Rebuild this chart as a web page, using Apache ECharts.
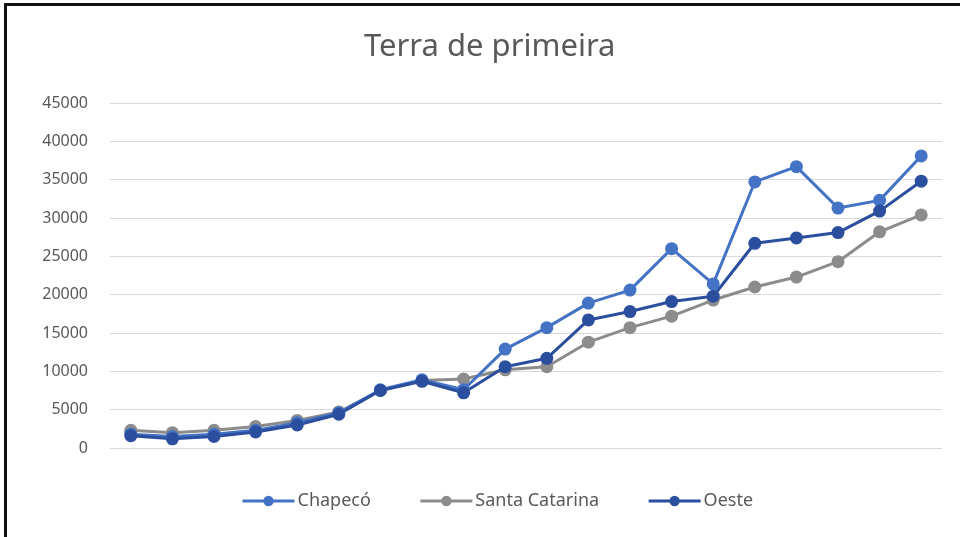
<!DOCTYPE html>
<html>
<head>
<meta charset="utf-8">
<script src="https://cdn.jsdelivr.net/npm/echarts@6/dist/echarts.min.js"></script>
<style>
  html, body { margin: 0; padding: 0; background: #fff; }
  #frame {
    position: absolute; left: 4px; top: 3px; width: 956px; height: 534px;
    border-top: 3px solid #111; border-left: 3px solid #111;
  }
  #chart { position: absolute; left: 0; top: 0; width: 960px; height: 537px; }
</style>
</head>
<body>
<div id="frame"></div>
<div id="chart"></div>
<script>
const periodos = ['1', '2', '3', '4', '5', '6', '7', '8', '9', '10',
  '11', '12', '13', '14', '15', '16', '17', '18', '19', '20']

const chapeco = [1800, 1500, 1800, 2300, 3300, 4600, 7600, 8900, 7600, 12900,
  15700, 18900, 20600, 26000, 21400, 34700, 36700, 31300, 32300, 38100]
const santaCatarina = [2300, 2000, 2300, 2800, 3600, 4700, 7500, 8800, 9000, 10200,
  10600, 13800, 15700, 17200, 19300, 21000, 22300, 24300, 28200, 30400]
const oeste = [1600, 1200, 1500, 2100, 3000, 4400, 7500, 8700, 7200, 10600,
  11700, 16700, 17800, 19100, 19800, 26700, 27400, 28100, 30900, 34800]

const yTicks = { min: 0, max: 45000, interval: 5000 }

const chart = echarts.init(document.getElementById('chart'))

const serie = (name, data, color) => ({
  name,
  type: 'line',
  data,
  symbol: 'circle',
  symbolSize: 13,
  lineStyle: { width: 3, color },
  itemStyle: { color },
  z: name === 'Santa Catarina' ? 1 : 2
})

chart.setOption({
  animation: false,
  color: ['#4472C4', '#8C8C8C', '#2B4F9E'],
  title: {
    text: 'Terra de primeira',
    left: 359,
    top: 27,
    textStyle: { fontFamily: 'Noto Sans', fontSize: 31, fontWeight: 'normal', color: '#595959' }
  },
  legend: {
    bottom: 22,
    left: 236,
    itemWidth: 52,
    itemHeight: 13,
    itemGap: 48,
    lineStyle: { width: 3 },
    textStyle: { fontFamily: 'Noto Sans', fontSize: 18, color: '#595959', padding: [0, 0, 0, -2] },
    data: ['Chapecó', 'Santa Catarina', 'Oeste']
  },
  grid: { left: 110, right: 18, top: 103, bottom: 89 },
  xAxis: {
    type: 'category',
    data: periodos,
    boundaryGap: true,
    axisLine: { show: false },
    axisTick: { show: false },
    axisLabel: { show: false }
  },
  yAxis: {
    type: 'value',
    min: yTicks.min,
    max: yTicks.max,
    interval: yTicks.interval,
    axisLabel: {
      fontFamily: 'Noto Sans', fontSize: 16, color: '#595959', margin: 22,
      formatter: v => String(v)
    },
    splitLine: { lineStyle: { color: '#D9D9D9', width: 1 } }
  },
  series: [
    serie('Chapecó', chapeco, '#4472C4'),
    serie('Santa Catarina', santaCatarina, '#8C8C8C'),
    serie('Oeste', oeste, '#2B4F9E')
  ]
})
</script>
</body>
</html>
